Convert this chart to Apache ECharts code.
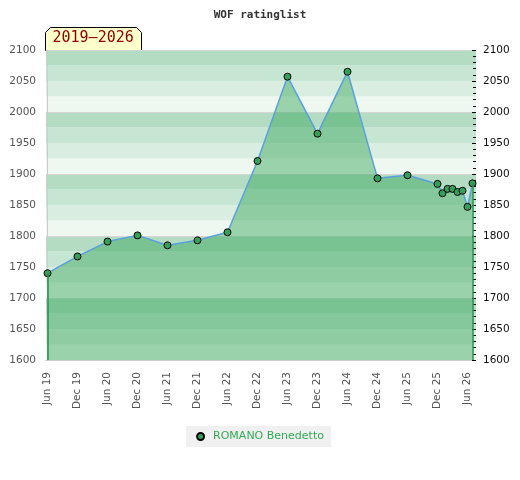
<!doctype html>
<html>
<head>
  <meta charset="UTF-8">
  <title>WOF ratinglist</title>
  <script src="https://cdn.jsdelivr.net/npm/echarts@6/dist/echarts.min.js"></script>
</head>
<body style="margin:0">
  <div id="chart" style="width: 520px; height: 480px;"></div>
  <script>
    // rating list dates (YYYY-MM) and ratings
    var dates = ['2019-06', '2019-12', '2020-06', '2020-12', '2021-06', '2021-12',
                 '2022-06', '2022-12', '2023-06', '2023-12', '2024-06', '2024-12',
                 '2025-06', '2025-12', '2026-01', '2026-02', '2026-03', '2026-04',
                 '2026-05', '2026-06', '2026-07'];
    var ratings = [1740, 1767, 1791, 1801, 1785, 1793, 1806, 1921, 2057, 1965, 2065, 1893,
                   1898, 1884, 1869, 1876, 1876, 1871, 1873, 1847, 1885];
    var tickLabels = ['Jun 19', 'Dec 19', 'Jun 20', 'Dec 20', 'Jun 21', 'Dec 21', 'Jun 22',
                      'Dec 22', 'Jun 23', 'Dec 23', 'Jun 24', 'Dec 24', 'Jun 25', 'Dec 25', 'Jun 26'];
    var playerName = 'ROMANO Benedetto';

    // months since Jun 2019
    function monthIndex(s) {
      var p = s.split('-');
      return (+p[0] - 2019) * 12 + (+p[1] - 6);
    }
    var points = dates.map(function (d, i) { return [monthIndex(d), ratings[i]]; });
    var tickValues = tickLabels.map(function (t, i) { return i * 6; });
    var first = points[0], last = points[points.length - 1];

    var myChart = echarts.init(document.getElementById('chart'));

    var bandColors = ['#eff7f1', '#daede1', '#c6e5d3', '#b3dcc3'];
    var plain = function (v) { return String(v); };

    option = {
      animation: false,
      title: {
        text: 'WOF ratinglist',
        left: 'center',
        top: 5,
        textStyle: { fontFamily: 'DejaVu Sans Mono', fontSize: 11, fontWeight: 'bold', color: '#333' }
      },
      graphic: [{
        type: 'group',
        left: 45,
        top: 27,
        children: [{
          type: 'polygon',
          shape: { points: [[0, 5], [5, 0], [91, 0], [96, 5], [96, 23], [0, 23]] },
          style: { fill: '#ffffcc', stroke: '#000', lineWidth: 1 }
        }, {
          type: 'text',
          x: 7,
          y: 3,
          style: { text: '2019–2026', fill: '#8b0000', font: '15px "DejaVu Sans Mono"' }
        }]
      }],
      legend: {
        bottom: 33,
        left: 'center',
        backgroundColor: '#f0f0f0',
        padding: [5, 7, 5, 10],
        icon: 'circle',
        itemWidth: 7,
        itemHeight: 7,
        textStyle: { color: '#33aa55', fontSize: 11, fontFamily: 'DejaVu Sans', padding: [0, 0, 0, 4] },
        data: [playerName]
      },
      grid: { left: 46, right: 44, top: 50, bottom: 120 },
      xAxis: {
        type: 'value',
        min: -0.3,
        max: 85.7,
        axisLine: { lineStyle: { color: '#cccccc' } },
        axisTick: { show: false },
        splitLine: { show: false },
        axisLabel: {
          customValues: tickValues,
          rotate: 90,
          margin: 12,
          color: '#555',
          fontSize: 10.5,
          fontFamily: 'DejaVu Sans',
          formatter: function (v) { return tickLabels[Math.round(v / 6)]; }
        }
      },
      yAxis: [{
        type: 'value',
        position: 'left',
        min: 1600, max: 2100, interval: 50,
        axisLine: { show: true, lineStyle: { color: '#cccccc' } },
        axisTick: { show: false },
        splitLine: { show: false },
        axisLabel: { color: '#555', fontSize: 10.5, fontFamily: 'DejaVu Sans', margin: 10, formatter: plain }
      }, {
        type: 'value',
        position: 'right',
        min: 1600, max: 2100, interval: 50,
        axisLine: { show: false },
        axisTick: { show: true, inside: true, length: 4, lineStyle: { color: '#000' } },
        minorTick: { show: true, splitNumber: 5, length: 3, lineStyle: { color: '#000' } },
        splitLine: { show: false },
        axisLabel: { color: '#111', fontSize: 10.5, fontFamily: 'DejaVu Sans', margin: 7, formatter: plain }
      }, {
        type: 'value',
        position: 'left',
        min: 1600, max: 2100, interval: 25,
        axisLine: { show: false },
        axisTick: { show: false },
        axisLabel: { show: false },
        splitArea: { show: true, areaStyle: { color: bandColors } },
        splitLine: { show: true, lineStyle: { color: ['#d6d6d6', 'rgba(0,0,0,0)', 'rgba(0,0,0,0)', 'rgba(0,0,0,0)'] } }
      }],
      series: [{
        name: playerName,
        type: 'line',
        yAxisIndex: 0,
        data: points,
        symbol: 'circle',
        symbolSize: 7,
        itemStyle: { color: '#33a05a', borderColor: '#000', borderWidth: 1 },
        lineStyle: { color: '#5aa0dc', width: 1.5 },
        areaStyle: { color: 'rgba(50,165,87,0.45)', opacity: 1, origin: 'start' },
        markLine: {
          silent: true,
          symbol: 'none',
          label: { show: false },
          lineStyle: { color: '#2e8b4e', width: 1.5, type: 'solid' },
          data: [
            [{ coord: [first[0], first[1]] }, { coord: [first[0], 1600] }],
            [{ coord: [last[0], last[1]] }, { coord: [last[0], 1600] }]
          ]
        }
      }]
    };

    myChart.setOption(option);
  </script>
</body>
</html>
